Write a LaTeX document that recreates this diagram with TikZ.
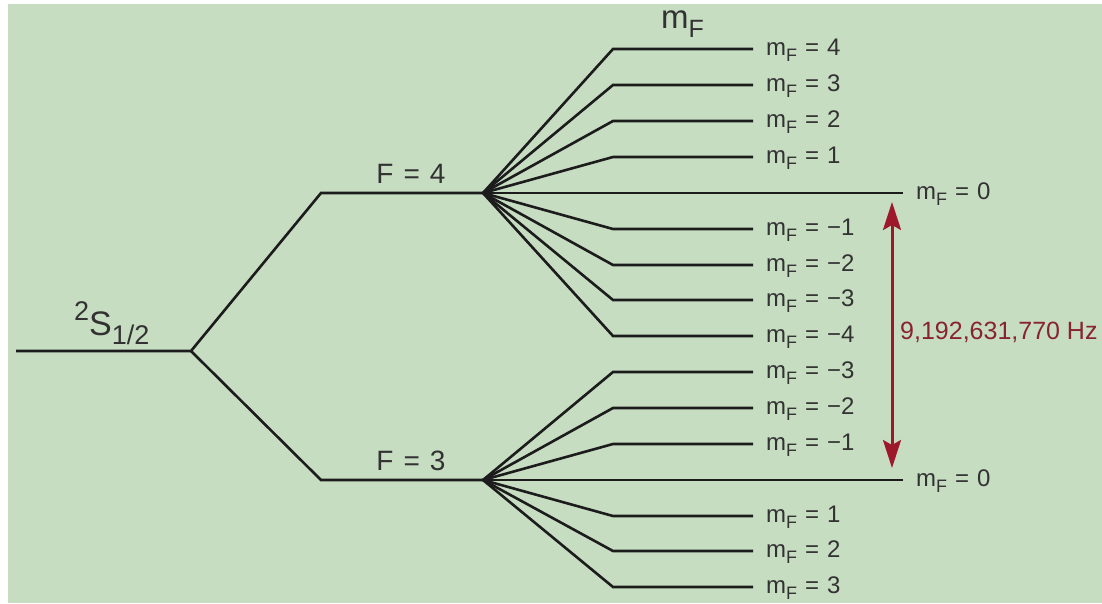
\documentclass[tikz,border=0pt]{standalone}
\usepackage{fontspec}
\setmainfont{Liberation Sans}
\usetikzlibrary{arrows.meta}
\definecolor{panel}{RGB}{199,221,194}
\definecolor{hfs}{RGB}{158,24,44}
\definecolor{hfstext}{RGB}{135,35,50}
\definecolor{ink}{RGB}{28,28,28}
\definecolor{txt}{RGB}{50,50,50}

% m_F label with a sans subscript and wide spacing round "="
\newcommand{\mFlab}[1]{m\raisebox{-0.27em}{\fontsize{18}{18}\selectfont F}\hspace{8pt}=\hspace{8pt}#1}

\begin{document}
\begin{tikzpicture}[x=1pt,y=-1pt,
  lvl/.style={line width=2.6pt, draw=ink},
  sidelab/.style={anchor=base west, inner sep=0pt, text=txt, font=\fontsize{24}{24}\selectfont},
  flab/.style={anchor=base, inner sep=0pt, text=txt, font=\fontsize{28}{28}\selectfont},
  split/.style={line width=3pt, draw=hfs, {Stealth[length=28pt,width=18pt,inset=5pt]}-{Stealth[length=28pt,width=18pt,inset=5pt]}}
]
\useasboundingbox (0,0) rectangle (1102,603);
\fill[white] (0,0) rectangle (1102,603);
\fill[panel] (8,4) rectangle (1102,603);

% ground level and hyperfine split
\coordinate (g0) at (16,351);
\coordinate (gs) at (191,351);
\coordinate (f4a) at (321,193);
\coordinate (f4) at (483,193);
\coordinate (f3a) at (321,480);
\coordinate (f3) at (483,480);
\draw[lvl] (g0) -- (gs) -- (f4a) -- (f4);
\draw[lvl] (gs) -- (f3a) -- (f3);

\node[anchor=base west, inner sep=0pt, text=txt, font=\fontsize{34}{34}\selectfont] (term) at (74,335)
  {\raisebox{0.42em}{\fontsize{27}{27}\selectfont 2}S\raisebox{-0.28em}{\fontsize{27}{27}\selectfont 1/2}};
\node[flab] (F4) at (411,183) {F\hspace{10pt}=\hspace{10pt}4};
\node[flab] (F3) at (411,470) {F\hspace{10pt}=\hspace{10pt}3};
\node[anchor=base west, inner sep=0pt, text=txt, font=\fontsize{33}{33}\selectfont] (mFhead) at (661,28)
  {m\raisebox{-0.3em}{\fontsize{25}{25}\selectfont F}};

% Zeeman sublevels of F = 4
\foreach \i/\y/\m in {1/49/4, 2/85/3, 3/121/2, 4/157/1, 5/229/−1, 6/265/−2, 7/300/−3, 8/336/−4}{
  \coordinate (uk\i) at (613,\y);
  \coordinate (ue\i) at (753,\y);
  \draw[lvl] (f4) -- (uk\i) -- (ue\i);
  \node[sidelab] (ul\i) at (766,\y+6.5) {\mFlab{\m}};
}
% Zeeman sublevels of F = 3
\foreach \i/\y/\m in {1/372/−3, 2/408/−2, 3/444/−1, 4/516/1, 5/551/2, 6/587/3}{
  \coordinate (lk\i) at (613,\y);
  \coordinate (le\i) at (753,\y);
  \draw[lvl] (f3) -- (lk\i) -- (le\i);
  \node[sidelab] (ll\i) at (766,\y+6) {\mFlab{\m}};
}
% clock states m_F = 0
\coordinate (u0) at (903,193);
\coordinate (l0) at (903,480);
\draw[lvl] (f4) -- (u0);
\draw[lvl] (f3) -- (l0);
\node[sidelab] (u0l) at (916,199) {\mFlab{0}};
\node[sidelab] (l0l) at (916,486) {\mFlab{0}};

% clock transition
\coordinate (ta) at (892,202);
\coordinate (tb) at (892,468);
\draw[split] (ta) -- (tb);
\node[anchor=base west, inner sep=0pt, text=hfstext, font=\fontsize{25}{25}\selectfont] (freq) at (900,339) {9,192,631,770 Hz};
\end{tikzpicture}
\end{document}
